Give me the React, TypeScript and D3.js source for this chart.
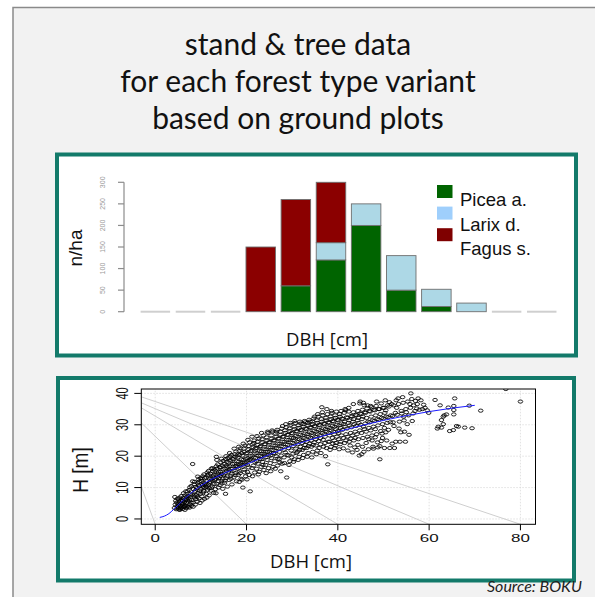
import React from "react";
import * as d3 from "d3";

// ---------- Bar chart data ----------
const DBH_CLASSES = ["c1", "c2", "c3", "c4", "c5", "c6", "c7", "c8", "c9", "c10", "c11", "c12"];
const PICEA = [0, 0, 0, 0, 60, 120, 200, 50, 12, 0, 0, 0];
const LARIX = [0, 0, 0, 0, 0, 40, 50, 80, 40, 20, 0, 0];
const FAGUS = [0, 0, 0, 150, 200, 140, 0, 0, 0, 0, 0, 0];
const SPECIES = ["Picea a.", "Larix d.", "Fagus s."];
const BAR_TICKS = [0, 50, 100, 150, 200, 250, 300];

// ---------- Scatter data (DBH [cm], H [m]) ----------
const TREES: [number, number][] = [
  [4.2,3.5],[4.4,4.6],[4.5,5.8],[4.6,3.1],[4.8,4.0],[4.9,6.5],[4.3,7.0],[4.7,5.2],[5.0,3.4],[5.0,4.8],
  [5.2,3.0],[5.3,5.5],[5.4,6.8],[5.5,4.2],[5.6,3.6],[5.7,7.3],[5.8,5.0],[5.9,6.1],[5.2,4.4],[5.5,3.3],[5.8,3.9],[5.1,6.2],[5.6,5.9],[5.9,4.5],[5.4,2.9],
  [6.0,3.2],[6.1,4.9],[6.2,6.6],[6.3,3.8],[6.4,5.4],[6.5,7.5],[6.6,4.3],[6.7,6.0],[6.8,3.5],[6.9,5.1],[6.2,8.2],[6.5,2.9],[6.8,7.0],[6.0,5.8],[6.4,4.1],[6.7,8.8],[6.9,6.4],
  [7.0,4.0],[7.1,5.6],[7.2,7.3],[7.3,3.9],[7.4,9.2],[7.5,6.1],[7.6,4.7],[7.7,8.0],[7.8,5.3],[7.9,10.5],[7.2,6.6],[7.5,3.6],[7.8,7.5],[7.1,8.8],[7.6,10.1],[7.9,4.2],
  [8.0,6.0],[8.1,7.8],[8.2,17.5],[8.3,5.2],[8.4,9.5],[8.5,11.0],[8.6,6.8],[8.7,8.6],[8.8,4.6],[8.9,10.2],[8.2,12.0],[8.5,7.2],[8.8,9.0],[8.3,3.9],[8.6,11.8],[8.9,6.3],
  [9.0,7.5],[9.1,9.8],[9.2,5.5],[9.3,11.5],[9.4,8.3],[9.5,12.6],[9.6,6.6],[9.7,10.4],[9.8,9.0],[9.9,13.0],[9.2,7.0],[9.5,10.8],[9.8,5.1],[9.3,13.5],[9.6,11.9],[9.9,8.0],
  [10.0,9.5],[10.1,12.1],[10.2,7.2],[10.3,10.8],[10.4,13.6],[10.5,8.4],[10.6,11.6],[10.7,14.2],[10.8,6.4],[10.9,9.9],[10.2,12.9],[10.5,10.2],[10.8,13.0],[10.3,5.9],[10.6,8.9],[10.9,11.2],
  [11.0,10.6],[11.1,13.2],[11.2,8.0],[11.3,12.0],[11.4,14.8],[11.5,9.3],[11.6,11.0],[11.7,15.3],[11.8,7.5],[11.9,12.8],[11.2,10.2],[11.5,13.9],[11.8,9.8],[11.3,6.8],[11.6,14.2],[11.9,11.4],
  [12.0,11.8],[12.1,14.4],[12.2,9.0],[12.3,16.0],[12.4,12.6],[12.5,10.4],[12.6,15.2],[12.7,13.5],[12.8,8.3],[12.9,11.1],[12.2,13.0],[12.5,16.2],[12.8,14.0],[12.3,10.0],[12.6,12.2],[12.9,15.8],
  [13.0,12.4],[13.1,15.4],[13.2,9.5],[13.3,14.0],[13.4,16.8],[13.5,11.2],[13.6,13.3],[13.7,17.4],[13.8,10.0],[13.9,15.0],[13.2,12.8],[13.5,18.8],[13.8,14.5],[13.3,8.2],[13.6,16.1],[13.9,12.0],[13.4,19.8],
  [14.0,13.0],[14.1,16.5],[14.2,10.8],[14.3,15.0],[14.4,18.0],[14.5,12.2],[14.6,14.3],[14.7,17.0],[14.8,9.6],[14.9,15.8],[14.2,13.7],[14.5,19.2],[14.8,12.8],[14.3,16.4],[14.6,11.3],[14.9,18.5],
  [15.0,14.0],[15.1,17.5],[15.2,11.5],[15.3,16.0],[15.4,19.0],[15.5,13.0],[15.6,15.3],[15.7,18.2],[15.8,10.3],[15.9,16.6],[15.2,14.5],[15.5,20.0],[15.8,13.6],[15.3,12.2],[15.6,17.0],[15.9,19.4],[15.4,8.0],
  [16.0,15.0],[16.1,18.0],[16.2,12.4],[16.3,16.8],[16.4,19.8],[16.5,13.8],[16.6,16.0],[16.7,20.4],[16.8,11.0],[16.9,17.5],[16.2,15.5],[16.5,18.6],[16.8,14.4],[16.3,21.0],[16.6,12.8],[16.9,19.2],
  [17.0,16.0],[17.1,19.0],[17.2,13.2],[17.3,17.6],[17.4,20.6],[17.5,14.6],[17.6,16.8],[17.7,21.5],[17.8,12.0],[17.9,18.4],[17.2,15.4],[17.5,19.8],[17.8,17.0],[17.3,22.4],[17.6,13.9],[17.9,20.2],
  [18.0,16.6],[18.1,19.6],[18.2,14.0],[18.3,18.2],[18.4,21.6],[18.5,15.2],[18.6,17.4],[18.7,22.5],[18.8,12.8],[18.9,19.0],[18.2,16.0],[18.5,20.4],[18.8,17.8],[18.3,23.0],[18.6,14.6],[18.9,21.0],[18.4,11.8],
  [19.0,17.2],[19.1,20.2],[19.2,10.0],[19.3,18.8],[19.4,22.4],[19.5,15.8],[19.6,18.0],[19.7,23.4],[19.8,13.6],[19.9,20.8],[19.2,16.6],[19.5,21.4],[19.8,19.2],[19.3,24.0],[19.6,14.8],[19.9,17.6],[19.0,12.5],
  [20.0,18.0],[20.1,21.0],[20.2,15.0],[20.3,19.4],[20.4,23.2],[20.5,16.4],[20.6,18.8],[20.7,24.4],[20.8,8.8],[20.9,21.6],[20.2,17.2],[20.5,22.2],[20.8,20.0],[20.3,25.2],[20.6,14.0],[20.9,19.0],[20.1,12.6],
  [21.0,18.6],[21.1,21.8],[21.2,26.2],[21.3,20.2],[21.4,23.8],[21.5,17.0],[21.6,19.6],[21.7,25.0],[21.8,14.8],[21.9,22.4],[21.2,16.2],[21.5,22.8],[21.8,20.8],[21.3,13.6],[21.6,24.2],[21.9,18.0],
  [22.0,19.4],[22.1,22.6],[22.2,16.0],[22.3,21.0],[22.4,24.6],[22.5,17.6],[22.6,20.2],[22.7,25.6],[22.8,15.0],[22.9,23.0],[22.2,18.4],[22.5,23.6],[22.8,21.6],[22.3,26.4],[22.6,14.2],[22.9,19.2],
  [23.0,20.0],[23.1,23.2],[23.2,16.6],[23.3,21.6],[23.4,25.4],[23.5,18.2],[23.6,20.8],[23.7,26.6],[23.8,15.6],[23.9,23.8],[23.2,19.0],[23.5,24.4],[23.8,22.2],[23.3,27.4],[23.6,17.2],[23.9,20.2],
  [24.0,20.6],[24.1,23.8],[24.2,17.2],[24.3,22.2],[24.4,26.0],[24.5,18.8],[24.6,21.4],[24.7,27.4],[24.8,16.2],[24.9,24.4],[24.2,19.6],[24.5,25.0],[24.8,22.8],[24.3,14.6],[24.6,27.8],[24.9,20.6],
  [25.0,21.2],[25.1,24.4],[25.2,17.8],[25.3,22.8],[25.4,26.6],[25.5,19.4],[25.6,22.0],[25.7,27.8],[25.8,16.6],[25.9,25.0],[25.2,20.2],[25.5,25.6],[25.8,23.4],[25.3,15.2],[25.6,28.2],[25.9,21.0],
  [26.0,21.8],[26.1,25.0],[26.2,18.4],[26.3,23.4],[26.4,27.2],[26.5,20.0],[26.6,22.6],[26.7,28.4],[26.8,17.0],[26.9,25.6],[26.2,20.8],[26.5,26.2],[26.8,24.0],[26.3,16.0],[26.6,27.8],[26.9,19.2],
  [27.0,22.4],[27.1,25.6],[27.2,19.0],[27.3,24.0],[27.4,27.8],[27.5,15.2],[27.6,23.2],[27.7,28.8],[27.8,17.6],[27.9,26.2],[27.2,21.4],[27.5,26.8],[27.8,24.6],[27.3,18.0],[27.6,20.2],[27.9,29.6],
  [28.0,23.0],[28.1,26.2],[28.2,19.6],[28.3,24.6],[28.4,28.2],[28.5,21.2],[28.6,23.8],[28.7,29.2],[28.8,13.2],[28.9,26.8],[28.2,22.0],[28.5,27.4],[28.8,25.2],[28.3,17.8],[28.6,30.2],[28.9,20.4],
  [29.0,23.6],[29.1,26.8],[29.2,20.2],[29.3,25.2],[29.4,28.8],[29.5,18.4],[29.6,24.4],[29.7,30.0],[29.8,21.8],[29.9,27.4],[29.2,22.6],[29.5,28.0],[29.8,25.8],[29.3,17.2],[29.6,30.6],[29.9,19.6],
  [30.0,24.2],[30.1,27.2],[30.2,20.8],[30.3,25.8],[30.4,29.4],[30.5,19.0],[30.6,25.0],[30.7,30.6],[30.8,22.4],[30.9,28.0],[30.2,23.2],[30.5,28.6],[30.8,26.4],[30.3,18.2],[30.6,31.2],[30.9,21.0],
  [31.0,24.6],[31.1,27.8],[31.2,21.4],[31.3,26.2],[31.4,29.8],[31.5,19.8],[31.6,25.4],[31.7,31.0],[31.8,23.0],[31.9,28.4],[31.2,23.8],[31.5,29.0],[31.8,26.8],[31.3,18.8],[31.6,22.0],[31.9,30.4],
  [32.0,25.0],[32.1,28.2],[32.2,22.0],[32.3,26.6],[32.4,30.2],[32.5,20.4],[32.6,25.8],[32.7,31.2],[32.8,23.6],[32.9,28.8],[32.2,24.2],[32.5,29.4],[32.8,27.2],[32.3,19.4],[32.6,22.6],[32.9,30.8],
  [33.0,25.4],[33.1,28.6],[33.2,22.6],[33.3,27.0],[33.4,30.6],[33.5,21.0],[33.6,26.2],[33.7,31.6],[33.8,24.0],[33.9,29.2],[33.2,24.6],[33.5,29.8],[33.8,27.6],[33.3,19.8],[33.6,23.2],[33.9,31.0],
  [34.0,25.8],[34.1,29.0],[34.2,23.0],[34.3,27.4],[34.4,31.0],[34.5,21.4],[34.6,26.6],[34.7,32.0],[34.8,24.4],[34.9,29.6],[34.2,25.0],[34.5,30.2],[34.8,28.0],[34.3,19.6],[34.6,23.6],[34.9,32.6],
  [35.0,26.2],[35.1,29.4],[35.2,23.4],[35.3,27.8],[35.4,31.4],[35.5,21.8],[35.6,27.0],[35.7,32.6],[35.8,24.8],[35.9,30.0],[35.2,25.4],[35.5,30.6],[35.8,28.4],[35.3,20.6],[35.6,33.4],[35.9,22.6],
  [36.0,26.6],[36.1,29.8],[36.2,23.8],[36.3,28.2],[36.4,31.8],[36.5,35.6],[36.6,27.4],[36.7,33.0],[36.8,25.2],[36.9,30.4],[36.2,25.8],[36.5,31.0],[36.8,28.8],[36.3,21.0],[36.6,34.0],[36.9,23.0],
  [37.0,27.0],[37.1,30.2],[37.2,24.2],[37.3,28.6],[37.4,32.2],[37.5,22.6],[37.6,27.8],[37.7,33.4],[37.8,17.4],[37.9,30.8],[37.2,26.2],[37.5,31.4],[37.8,29.2],[37.3,20.0],[37.6,35.0],[37.9,24.6],
  [38.0,27.4],[38.1,30.6],[38.2,24.6],[38.3,29.0],[38.4,32.6],[38.5,23.0],[38.6,28.2],[38.7,33.8],[38.8,25.8],[38.9,31.2],[38.2,26.6],[38.5,31.8],[38.8,29.6],[38.3,22.0],[38.6,34.4],[38.9,24.0],
  [39.0,27.8],[39.1,31.0],[39.2,25.0],[39.3,29.4],[39.4,33.0],[39.5,23.4],[39.6,28.6],[39.7,34.2],[39.8,26.2],[39.9,31.6],[39.2,27.0],[39.5,32.2],[39.8,30.0],[39.3,22.6],[39.6,24.2],
  [40.0,28.0],[40.1,31.4],[40.2,25.4],[40.3,29.8],[40.4,33.4],[40.5,23.8],[40.6,29.0],[40.7,34.4],[40.8,26.6],[40.9,32.0],[40.2,27.4],[40.5,32.6],[40.8,30.4],[40.3,22.2],[40.6,24.6],
  [41.0,28.4],[41.1,31.8],[41.2,25.8],[41.3,30.2],[41.4,33.8],[41.5,24.2],[41.6,29.4],[41.7,34.6],[41.8,27.0],[41.9,32.4],[41.2,22.5],[41.5,31.0],[41.8,25.0],[41.6,35.0],
  [42.0,28.8],[42.1,32.2],[42.2,26.2],[42.3,30.6],[42.4,34.2],[42.5,24.6],[42.6,29.8],[42.7,23.4],[42.8,27.4],[42.9,32.8],[42.2,21.8],[42.5,31.4],[42.8,25.6],[42.4,35.4],
  [43.0,29.2],[43.1,32.6],[43.2,26.6],[43.3,31.0],[43.4,34.0],[43.5,25.0],[43.6,30.2],[43.7,22.8],[43.8,27.8],[43.9,33.2],[43.2,21.2],[43.5,31.8],[43.8,25.8],[43.4,36.6],
  [44.0,29.6],[44.1,33.0],[44.2,27.0],[44.3,31.4],[44.4,34.4],[44.5,25.4],[44.6,30.6],[44.7,20.2],[44.8,28.2],[44.9,33.6],[44.2,22.0],[44.5,32.2],[44.8,36.8],[44.4,23.6],[44.9,37.4],
  [45.0,30.0],[45.1,33.4],[45.2,27.4],[45.3,31.8],[45.4,34.8],[45.5,25.8],[45.6,37.0],[45.7,21.4],[45.8,28.6],[45.9,34.0],[45.2,20.6],[45.5,32.6],[45.8,36.2],[45.4,23.0],[45.6,29.4],
  [46.0,30.4],[46.1,33.8],[46.2,27.8],[46.3,32.2],[46.4,35.2],[46.5,26.2],[46.6,31.0],[46.7,22.2],[46.8,29.0],[46.9,34.4],[46.2,24.2],[46.5,36.2],[46.8,25.4],
  [47.0,30.8],[47.1,34.2],[47.2,28.2],[47.3,32.6],[47.4,35.6],[47.5,26.6],[47.6,31.4],[47.7,23.0],[47.8,29.4],[47.9,34.8],[47.2,36.0],[47.5,25.0],[47.8,22.4],
  [48.0,31.2],[48.1,34.6],[48.2,28.6],[48.3,33.0],[48.4,36.0],[48.5,27.0],[48.6,31.8],[48.7,24.4],[48.8,29.8],[48.9,35.0],[48.2,26.0],[48.5,37.4],[48.8,22.8],
  [49.0,31.6],[49.1,35.0],[49.2,19.0],[49.3,33.4],[49.4,28.0],[49.5,24.8],[49.6,32.2],[49.7,27.2],[49.8,30.2],[49.9,35.4],[49.2,23.2],[49.5,36.8],[49.8,25.8],
  [50.0,32.0],[50.1,35.4],[50.2,29.0],[50.3,33.8],[50.4,37.8],[50.5,27.6],[50.6,32.6],[50.7,25.0],[50.8,30.6],[50.9,36.2],[50.2,22.6],[50.5,34.6],
  [51.0,32.4],[51.2,35.8],[51.4,22.6],[51.6,33.0],[51.8,36.6],[51.1,28.4],[51.5,30.8],[51.9,24.0],[51.3,37.2],
  [52.0,32.8],[52.2,36.2],[52.4,22.6],[52.6,33.8],[52.8,37.8],[52.3,29.6],[52.7,24.6],[52.1,30.8],[52.9,35.4],
  [53.0,33.2],[53.3,36.6],[53.6,24.6],[53.9,34.4],[53.2,38.4],[53.5,31.0],[53.8,27.6],[53.4,28.8],
  [54.0,33.6],[54.3,37.0],[54.6,27.8],[54.9,35.0],[54.2,38.8],[54.5,31.4],[54.8,24.6],[54.4,32.6],
  [55.0,34.0],[55.3,37.4],[55.6,26.8],[55.9,35.4],[55.2,30.2],[55.5,33.0],[55.8,36.6],
  [56.0,40.0],[56.3,31.2],[56.6,36.2],[56.9,34.4],[56.2,38.2],[56.5,33.6],
  [57.0,37.6],[57.3,35.2],[57.6,38.4],[57.9,34.8],[57.4,36.6],
  [58.2,37.8],[58.5,35.0],[58.8,36.4],[59.1,35.4],[59.6,34.6],[59.9,33.8],
  [61.3,37.9],[61.8,28.8],[62.0,29.4],[62.4,36.2],[62.7,31.5],[62.7,29.1],[63.1,32.6],[63.1,30.2],[63.3,33.0],[63.8,33.3],
  [64.2,35.5],[64.5,28.0],[65.3,28.3],[65.4,36.0],[65.4,34.7],[65.4,33.3],[65.6,38.4],[66.0,29.6],[66.4,29.4],
  [67.8,29.1],[68.8,36.1],[69.4,28.9],[71.3,34.5],
  [76.8,41.4],[80.0,37.4],
];

// Fitted height curve
const CURVE_DBH = [1, 2, 3, 4, 5, 7, 10, 15, 20, 25, 30, 35, 40, 45, 50, 55, 60, 65, 70];
const CURVE_H = [0.5, 0.9, 1.7, 3.0, 4.4, 7.2, 10.6, 14.5, 17.4, 20.5, 23.3, 25.7, 27.8, 29.7, 31.4, 32.9, 34.2, 35.3, 36.2];

// Grey reference lines: start height at left edge, end DBH at bottom edge
const REF_START_H = [10.3, 30.6, 35.4, 37.0, 38.9];
const REF_END_DBH = [0, 20, 40, 60, 80];

const SC_X_TICKS = [0, 20, 40, 60, 80];
const SC_Y_TICKS = [0, 10, 20, 30, 40];

const TITLE_LINES = ["stand & tree data", "for each forest type variant", "based on ground plots"];

const C_PICEA = "#006400";
const C_LARIX = "#add8e6";
const C_FAGUS = "#8b0000";
const TEAL = "#137a6a";

export default function App() {
  // ---- bar chart scales
  const bx = d3.scaleBand<string>().domain(DBH_CLASSES).range([137.8, 559.3]).paddingInner(0.16).paddingOuter(0.08);
  const by = d3.scaleLinear().domain([0, 300]).range([311.7, 182.3]);
  const stackInput = DBH_CLASSES.map((c, i) => ({ c, p: PICEA[i], l: LARIX[i], f: FAGUS[i] }));
  const stacked = d3.stack<any>().keys(["p", "l", "f"])(stackInput);
  const colors: Record<string, string> = { p: C_PICEA, l: C_LARIX, f: C_FAGUS };
  const legendColors = [C_PICEA, "#9fcffc", "#7f0000"];

  // ---- scatter scales
  const sx = d3.scaleLinear().domain([-3.05, 83.3]).range([141.3, 535.5]);
  const sy = d3.scaleLinear().domain([-1.7, 41.4]).range([524.3, 389]);
  const [xMin, xMax] = sx.domain();
  const [yMin, yMax] = sy.domain();
  const line = d3.line<number>().x((_, i) => sx(CURVE_DBH[i])).y((d) => sy(d)).curve(d3.curveMonotoneX);

  const ftArial = "'Liberation Sans', Arial, sans-serif";

  return (
    <svg width={595} height={597} style={{ position: "absolute", left: 0, top: 0 }}>
      <rect x={0} y={0} width={595} height={597} fill="#ffffff" />
      <rect x={13} y={7.5} width={600} height={620} fill="#f2f2f2" stroke="#8a8a8a" strokeWidth={1.5} />

      {TITLE_LINES.map((t, i) => (
        <text key={t} x={298} y={55 + i * 37} textAnchor="middle" fontFamily="Lato, sans-serif" fontSize={30} fill="#111">
          {t}
        </text>
      ))}

      {/* ---------- Box 1: bar chart ---------- */}
      <rect x={57} y={154.5} width={519} height={201} fill="#fff" stroke={TEAL} strokeWidth={4} />
      {/* y axis */}
      <line x1={124} x2={124} y1={by(0)} y2={by(300)} stroke="#8c8c8c" strokeWidth={1.2} />
      {BAR_TICKS.map((t) => (
        <g key={t}>
          <line x1={118} x2={124} y1={by(t)} y2={by(t)} stroke="#8c8c8c" strokeWidth={1.2} />
          <text transform={`translate(105,${by(t)}) rotate(-90)`} textAnchor="middle" fontFamily={ftArial} fontSize={7} fill="#9a9a9a">
            {t}
          </text>
        </g>
      ))}
      {/* bars */}
      {stacked.map((layer) =>
        layer.map((seg, i) => {
          const h = by(seg[0]) - by(seg[1]);
          if (h <= 0) return null;
          return (
            <rect key={layer.key + i} x={bx(DBH_CLASSES[i])} y={by(seg[1])} width={bx.bandwidth()} height={h}
              fill={colors[layer.key]} stroke="#6e6e6e" strokeWidth={0.9} />
          );
        })
      )}
      {DBH_CLASSES.map((c, i) =>
        PICEA[i] + LARIX[i] + FAGUS[i] === 0 ? (
          <line key={c} x1={bx(c)} x2={(bx(c) as number) + bx.bandwidth()} y1={by(0)} y2={by(0)} stroke="#cfcfcf" strokeWidth={2} />
        ) : null
      )}
      {/* legend */}
      {SPECIES.map((s, i) => (
        <g key={s}>
          <rect x={437} y={185 + i * 21.6} width={15.5} height={13} fill={legendColors[i]} />
          <text x={460} y={206 + i * 24.5} fontFamily={ftArial} fontSize={18.5} fill="#111">{s}</text>
        </g>
      ))}
      <text transform="translate(82,248) rotate(-90)" textAnchor="middle" fontFamily={ftArial} fontSize={19} fill="#111">n/ha</text>
      <text x={327} y={346} textAnchor="middle" fontFamily="'Open Sans', sans-serif" fontSize={18.5} fill="#111">DBH [cm]</text>

      {/* ---------- Box 2: scatter ---------- */}
      <rect x={58} y={378} width={516} height={202.5} fill="#fff" stroke={TEAL} strokeWidth={4} />
      <defs>
        <clipPath id="scClip">
          <rect x={sx(xMin)} y={sy(yMax)} width={sx(xMax) - sx(xMin)} height={sy(yMin) - sy(yMax)} />
        </clipPath>
      </defs>
      {/* grid */}
      {SC_X_TICKS.map((t) => (
        <line key={"gx" + t} x1={sx(t)} x2={sx(t)} y1={sy(yMin)} y2={sy(yMax)} stroke="#d9d9d9" strokeWidth={0.8} strokeDasharray="1.5,1.5" />
      ))}
      {SC_Y_TICKS.map((t) => (
        <line key={"gy" + t} x1={sx(xMin)} x2={sx(xMax)} y1={sy(t)} y2={sy(t)} stroke="#d9d9d9" strokeWidth={0.8} strokeDasharray="1.5,1.5" />
      ))}
      <g clipPath="url(#scClip)">
        {REF_START_H.map((h, i) => (
          <line key={"ref" + i} x1={sx(xMin)} y1={sy(h)} x2={sx(REF_END_DBH[i])} y2={sy(yMin)} stroke="#cfcfcf" strokeWidth={1} />
        ))}
        {TREES.map(([d, h], i) => (
          <ellipse key={i} cx={sx(d)} cy={sy(h)} rx={2.3} ry={1.6} fill="none" stroke="#000" strokeWidth={0.85} />
        ))}
        <path d={line(CURVE_H) || ""} fill="none" stroke="#1a1aff" strokeWidth={1} />
      </g>
      {/* frame */}
      <rect x={sx(xMin)} y={sy(yMax)} width={sx(xMax) - sx(xMin)} height={sy(yMin) - sy(yMax)} fill="none" stroke="#000" strokeWidth={1} />
      {SC_X_TICKS.map((t) => (
        <g key={"tx" + t}>
          <line x1={sx(t)} x2={sx(t)} y1={sy(yMin)} y2={sy(yMin) + 6} stroke="#000" strokeWidth={1} />
          <text transform={`translate(${sx(t)},${sy(yMin) + 18}) scale(1.7,1)`} textAnchor="middle" fontFamily={ftArial} fontSize={10} fill="#111">
            {t}
          </text>
        </g>
      ))}
      {SC_Y_TICKS.map((t) => (
        <g key={"ty" + t}>
          <line x1={sx(xMin) - 7} x2={sx(xMin)} y1={sy(t)} y2={sy(t)} stroke="#000" strokeWidth={1} />
          <text transform={`translate(128,${sy(t)}) scale(1.5,1) rotate(-90)`} textAnchor="middle" fontFamily={ftArial} fontSize={11} fill="#111">
            {t}
          </text>
        </g>
      ))}
      <text transform="translate(88,470) scale(1.2,1) rotate(-90)" textAnchor="middle" fontFamily={ftArial} fontSize={19} fill="#111">H [m]</text>
      <text x={311} y={568} textAnchor="middle" fontFamily="'Open Sans', sans-serif" fontSize={18.5} fill="#111">DBH [cm]</text>

      <text x={487} y={592} fontFamily="Lato, sans-serif" fontStyle="italic" fontSize={16} fill="#222">Source: BOKU</text>
    </svg>
  );
}
